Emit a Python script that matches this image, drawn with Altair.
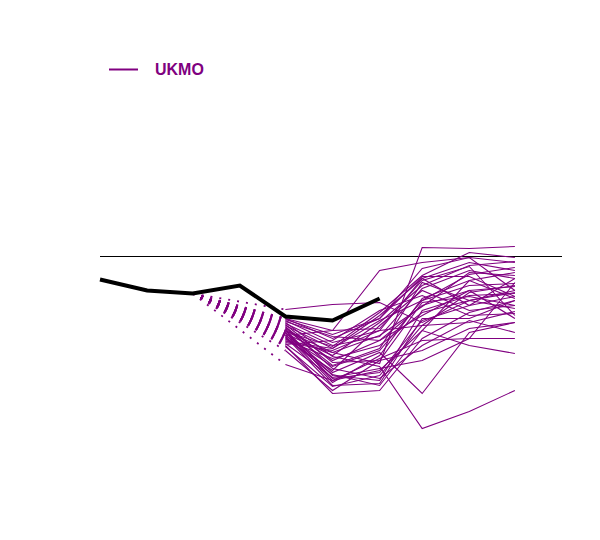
import altair as alt
import pandas as pd

# monthly dates (first of month) and observed values
obs_dates = ["2022-08-01", "2022-09-01", "2022-10-01", "2022-11-01",
             "2022-12-01", "2023-01-01", "2023-02-01"]
obs_y = [-2.3, -3.4, -3.7, -2.9, -6.0, -6.4, -4.2]

ens_dates = ["2022-12-01", "2023-01-01", "2023-02-01", "2023-03-01",
             "2023-04-01", "2023-05-01"]
members = [
    [-5.3, -4.8, -4.6, -6.6, -4.4, -3.6],
    [-7.9, -7.4, -1.4, -0.6, -0.1, -0.6],
    [-7.4, -9.6, -10.7, 0.9, 0.8, 1.0],
    [-6.6, -10.0, -11.0, -17.2, -15.5, -13.4],
    [-8.9, -13.7, -13.4, -8.2, -5.6, -4.4],
    [-7.6, -11.6, -9.6, -13.7, -7.6, -6.6],
    [-10.8, -12.4, -11.4, -7.4, -8.9, -9.7],
    [-6.2, -8.2, -6.2, -2.0, -2.0, -4.0],
    [-6.4, -8.6, -7.4, -2.2, -0.6, -1.4],
    [-6.7, -8.9, -8.0, -3.2, -1.4, -2.2],
    [-6.9, -9.2, -6.4, -4.4, -2.9, -2.7],
    [-7.1, -10.4, -8.4, -4.9, -3.4, -3.0],
    [-7.2, -10.9, -9.2, -2.6, -4.4, -3.4],
    [-7.4, -11.9, -12.4, -5.4, -3.9, -3.7],
    [-7.6, -12.2, -11.6, -6.4, -4.9, -4.0],
    [-7.8, -12.6, -9.9, -4.2, -2.4, -4.2],
    [-8.0, -12.9, -12.7, -6.2, -6.2, -4.4],
    [-8.2, -11.4, -6.9, -3.4, -5.4, -4.9],
    [-8.4, -10.2, -8.9, -5.6, -4.4, -5.2],
    [-8.6, -9.4, -7.4, -6.9, -6.6, -5.5],
    [-8.8, -8.4, -5.4, -3.9, -5.9, -5.7],
    [-6.2, -7.4, -7.2, -2.4, -1.0, -5.9],
    [-6.5, -8.0, -8.4, -5.9, -3.4, -6.2],
    [-6.8, -10.6, -10.4, -9.4, -7.2, -6.6],
    [-7.0, -11.2, -12.2, -8.9, -6.4, -7.6],
    [-7.3, -12.4, -10.2, -8.4, -8.2, -8.2],
    [-7.5, -9.0, -5.6, -1.9, 0.4, -0.1],
    [-7.7, -9.9, -6.6, -2.9, -0.9, -0.5],
    [-7.9, -11.0, -9.4, -4.4, -1.8, -1.1],
    [-8.1, -11.8, -12.9, -7.4, -2.4, -1.6],
    [-8.3, -9.6, -7.9, -5.0, -1.6, -1.9],
    [-8.5, -9.2, -5.9, -2.2, -4.9, -2.2],
    [-8.7, -12.1, -11.2, -10.4, -8.2, -2.6],
    [-9.0, -13.0, -11.9, -6.9, -3.6, -2.9],
    [-6.3, -7.8, -6.2, -1.2, -0.1, -3.4],
    [-9.4, -13.4, -10.4, -4.6, -4.0, -4.9],
]
model_name = "UKMO"
link_from = 2  # index in obs of the point the dotted links start from
zero_dates = ["2022-08-01", "2023-06-01"]

purple = "#800080"

ens_rows = []
link_rows = []
for i, m in enumerate(members):
    for d, yv in zip(ens_dates, m):
        ens_rows.append({"member": i, "date": d, "y": yv, "model": model_name})
    link_rows.append({"member": i, "date": obs_dates[link_from], "y": obs_y[link_from]})
    link_rows.append({"member": i, "date": ens_dates[0], "y": m[0]})

ens_df = pd.DataFrame(ens_rows)
link_df = pd.DataFrame(link_rows)
obs_df = pd.DataFrame({"date": obs_dates, "y": obs_y})
zero_df = pd.DataFrame({"date": zero_dates, "y": [0, 0]})

xs = alt.Scale(
    type="utc",
    domain=[alt.DateTime(year=2022, month=8, date=1, utc=True),
            alt.DateTime(year=2023, month=6, date=1, utc=True)],
    nice=False,
)
ys = alt.Scale(domain=[-24.05, 22.05], nice=False, zero=False)
X = alt.X("date:T", scale=xs, axis=None)
Y = alt.Y("y:Q", scale=ys, axis=None)

zero = alt.Chart(zero_df).mark_line(color="black", strokeWidth=1).encode(x=X, y=Y)

links = alt.Chart(link_df).mark_line(
    color=purple, strokeWidth=1.8, strokeDash=[2, 7]
).encode(x=X, y=Y, detail="member:N")

ens = alt.Chart(ens_df).mark_line(strokeWidth=1.1).encode(
    x=X,
    y=Y,
    detail="member:N",
    color=alt.Color(
        "model:N",
        scale=alt.Scale(domain=[model_name], range=[purple]),
        legend=alt.Legend(
            title=None,
            orient="none",
            legendX=8,
            legendY=18,
            symbolType="stroke",
            symbolSize=841,
            symbolStrokeWidth=2,
            symbolStrokeColor=purple,
            labelFontSize=16,
            labelFont="Liberation Sans",
            labelFontWeight="bold",
            labelColor=purple,
            labelOffset=16,
        ),
    ),
)

obs = alt.Chart(obs_df).mark_line(color="black", strokeWidth=4).encode(x=X, y=Y)

chart = alt.layer(zero, links, ens, obs).properties(
    width=462,
    height=461,
    padding={"left": 84, "top": 28, "right": 20, "bottom": 20},
).configure_view(stroke=None)

chart.save("out.html", embed_options={"renderer": "svg", "actions": False})
